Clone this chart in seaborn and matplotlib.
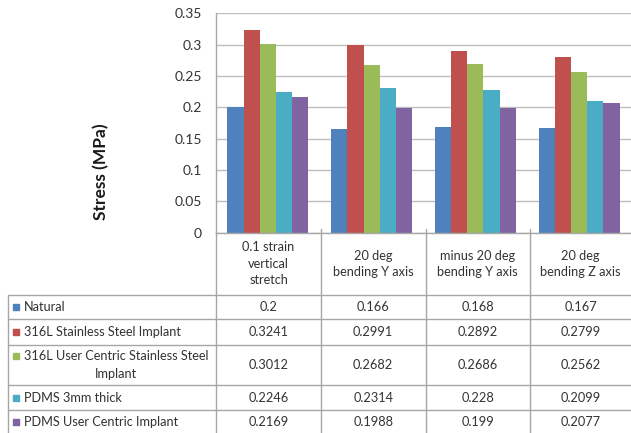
import matplotlib
matplotlib.use("Agg")
import matplotlib.pyplot as plt
import pandas as pd
import seaborn as sns
from matplotlib.lines import Line2D
from matplotlib.patches import Rectangle

categories = ["0.1 strain\nvertical\nstretch", "20 deg\nbending Y axis",
              "minus 20 deg\nbending Y axis", "20 deg\nbending Z axis"]
series = ["Natural", "316L Stainless Steel Implant",
          "316L User Centric Stainless Steel\nImplant", "PDMS 3mm thick",
          "PDMS User Centric Implant"]
natural = [0.2, 0.166, 0.168, 0.167]
steel_316l = [0.3241, 0.2991, 0.2892, 0.2799]
steel_316l_user = [0.3012, 0.2682, 0.2686, 0.2562]
pdms_3mm = [0.2246, 0.2314, 0.228, 0.2099]
pdms_user = [0.2169, 0.1988, 0.199, 0.2077]
values = [natural, steel_316l, steel_316l_user, pdms_3mm, pdms_user]
colors = ["#4F81BD", "#C0504D", "#9BBB59", "#4BACC6", "#8064A2"]
yticks = [0, 0.05, 0.1, 0.15, 0.2, 0.25, 0.3, 0.35]

rows = []
for s, vals in zip(series, values):
    for c, v in zip(categories, vals):
        rows.append({"condition": c, "material": s, "stress": v})
df = pd.DataFrame(rows)

W, H = 631, 433
sns.set_style("white")
plt.rcParams["font.family"] = ["Lato", "DejaVu Sans"]
TXT = "#333333"
GRID = "#BEBEBE"
LINE = "#A6A6A6"
FS = 9.2

fig = plt.figure(figsize=(W / 100, H / 100), dpi=100)


def fx(x):
    return x / W


def fy(y):
    return 1 - y / H


top, bottom, left, right = 13.3, 232.7, 216, 631
ax = fig.add_axes([fx(left), fy(bottom), fx(right) - fx(left), (bottom - top) / H])
sns.barplot(data=df, x="condition", y="stress", hue="material", hue_order=series,
            order=categories, palette=colors, saturation=1, width=0.78,
            linewidth=0, legend=False, ax=ax, errorbar=None)
ax.set_ylim(0, 0.35)
ax.set_xlim(-0.5, len(categories) - 0.5)
ax.set_yticks(yticks)
ax.set_yticklabels([f"{t:g}" for t in yticks], color=TXT, fontsize=10)
ax.tick_params(axis="y", length=0, pad=10)
ax.set_xticks([])
ax.set_xlabel("")
ax.set_ylabel("")
ax.yaxis.grid(True, color=GRID, linewidth=1)
ax.set_axisbelow(True)
for side in ["top", "right"]:
    ax.spines[side].set_visible(False)
for side in ["left", "bottom"]:
    ax.spines[side].set_color(LINE)
    ax.spines[side].set_linewidth(1)

fig.text(fx(101), fy(172), "Stress (MPa)", rotation=90, ha="center", va="center",
         fontsize=12.5, fontweight="bold", color="#1a1a1a")

# data table below the plot
col_edges = [216, 321, 425.5, 530, 631]
row_edges = [295, 319, 345, 385, 410, 433]


def hline(y, x0, x1):
    fig.add_artist(Line2D([fx(x0), fx(x1)], [fy(y), fy(y)], color=LINE, lw=1))


def vline(x, y0, y1):
    fig.add_artist(Line2D([fx(x), fx(x)], [fy(y0), fy(y1)], color=LINE, lw=1))


for y in row_edges[:-1]:
    hline(y, 8, 631)
vline(8, 295, 433)
vline(216, 232, 433)
for x in col_edges[1:-1]:
    vline(x, 229, 433)

for i, c in enumerate(categories):
    cx = (col_edges[i] + col_edges[i + 1]) / 2
    fig.text(fx(cx), fy(264), c, ha="center", va="center", fontsize=FS,
             color=TXT, linespacing=1.45)

for r, (s, vals, col) in enumerate(zip(series, values, colors)):
    cy = (row_edges[r] + row_edges[r + 1]) / 2
    n_lines = s.count("\n") + 1
    # legend key sits beside the first line of the label
    key_y = cy - (n_lines - 1) * 9
    fig.add_artist(Rectangle((fx(13), fy(key_y + 3)), 6 / W, 6 / H, color=col,
                             transform=fig.transFigure))
    fig.text(fx(24), fy(cy), s, ha="left", va="center", fontsize=FS,
             color=TXT, multialignment="center", linespacing=1.5)
    for i, v in enumerate(vals):
        cx = (col_edges[i] + col_edges[i + 1]) / 2
        fig.text(fx(cx), fy(cy), f"{v:g}", ha="center", va="center",
                 fontsize=FS, color=TXT)

fig.savefig("out.png", dpi=100)
